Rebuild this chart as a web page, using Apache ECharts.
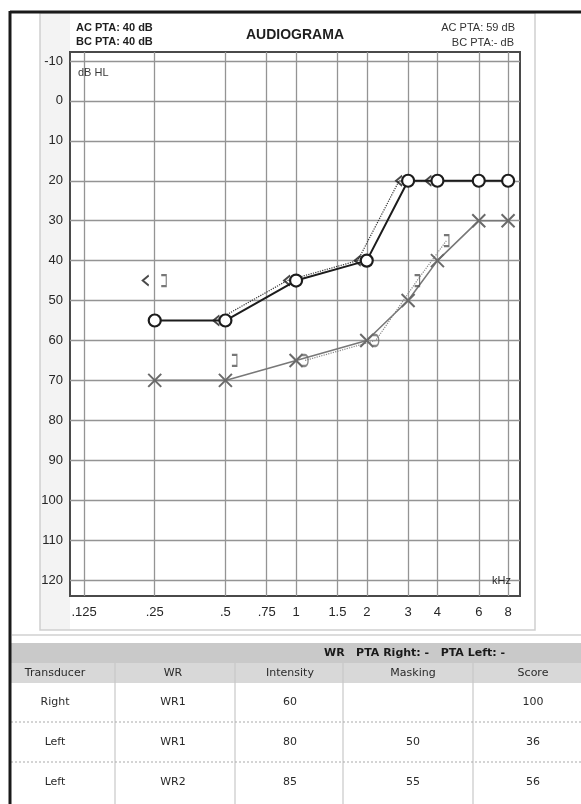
<!DOCTYPE html>
<html><head><meta charset="utf-8">
<script src="https://cdn.jsdelivr.net/npm/echarts@6/dist/echarts.min.js"></script>
<style>html,body{margin:0;padding:0;background:#fff}#c{width:581px;height:804px}</style>
</head><body><div id="c"></div>
<script>
// ---- data ----
const freqs = [0.25, 0.5, 1, 2, 3, 4, 6, 8];
const rightAC = [55, 55, 45, 40, 20, 20, 20, 20];
const leftAC = [70, 70, 65, 60, 50, 40, 30, 30];
const rightBC = [45, 55, 45, 40, 20, 20, null, null];
const rightBCLink = [null, 55, 45, 40, 20, 20, null, null];
const leftBCMasked = [45, 65, null, null, 45, 35, null, null];
const leftBC = [null, null, 65, 60, null, null, null, null];
const leftBCLink = [null, null, 65, 60, 45, 35, null, null];
const xTicks = [0.125, 0.25, 0.5, 0.75, 1, 1.5, 2, 3, 4, 6, 8];
const xTickLabels = ['.125', '.25', '.5', '.75', '1', '1.5', '2', '3', '4', '6', '8'];
const yTicks = [-10, 0, 10, 20, 30, 40, 50, 60, 70, 80, 90, 100, 110, 120];
const headerLeft = ['AC PTA: 40 dB', 'BC PTA: 40 dB'];
const headerRight = ['AC PTA: 59 dB', 'BC PTA:- dB'];
const tableTitle = 'WR   PTA Right: -   PTA Left: -';
const tableHeader = ['Transducer', 'WR', 'Intensity', 'Masking', 'Score'];
const tableRows = [
  ['Right', 'WR1', '60', '', '100'],
  ['Left', 'WR1', '80', '50', '36'],
  ['Left', 'WR2', '85', '55', '56']
];

// ---- layout ----
const XMIN = 0.1089, XMAX = 8.99, YMIN = -12.25, YMAX = 124;
const FONT = 'Liberation Sans';
const TFONT = 'DejaVu Sans';
const colX = [55, 173, 290, 413, 533];
const rowY = [702, 742, 782];

const SYM_X = 'path://M0,0L10,10M10,0L0,10';
const SYM_LT = 'path://M6,0L0,5L6,10';
const SYM_GT = 'path://M0,0L3,0C7,0 7,10 3,10L0,10';
const SYM_RB = 'path://M0,0L5,0L5,11L0,11';

function pairs(v) { return freqs.map((f, i) => v[i] == null ? null : [f, v[i]]).filter(Boolean); }
function gapped(v) { return freqs.map((f, i) => [f, v[i] == null ? '-' : v[i]]); }
function tickLabel(v) {
  for (let i = 0; i < xTicks.length; i++) if (Math.abs(xTicks[i] - v) < 1e-6) return xTickLabels[i];
  return '';
}

const grids = [
  {left: 70, right: 61, top: 52, bottom: 208, show: true, borderColor: '#4a4a4a', borderWidth: 2, backgroundColor: 'transparent'},
  {left: 61, right: 70, top: 52, bottom: 208},
  {left: 79, right: 52, top: 52, bottom: 208}
];
const xAxes = [0, 1, 2].map(g => ({
  type: 'log', logBase: 2, min: XMIN, max: XMAX, gridIndex: g, show: g === 0,
  axisLine: {show: false},
  axisTick: {show: false, customValues: xTicks},
  axisLabel: {customValues: xTicks, formatter: tickLabel, margin: 10, fontFamily: FONT, fontSize: 13, color: '#262626'},
  splitLine: {show: g === 0, lineStyle: {color: '#949494', width: 1.3}},
  minorSplitLine: {show: false}
}));
const yAxes = [0, 1, 2].map(g => ({
  type: 'value', inverse: true, min: YMIN, max: YMAX, gridIndex: g, show: g === 0,
  axisLine: {show: false},
  axisTick: {show: false, customValues: yTicks},
  axisLabel: {customValues: yTicks, margin: 7, fontFamily: FONT, fontSize: 13, color: '#262626'},
  splitLine: {show: g === 0, lineStyle: {color: '#949494', width: 1.3}}
}));

const strokeStyle = (c, w) => ({color: 'rgba(0,0,0,0)', borderColor: c, borderWidth: w});

const series = [
  {type: 'line', name: 'Right BC link', xAxisIndex: 1, yAxisIndex: 1, data: gapped(rightBCLink), symbol: 'none',
   lineStyle: {color: '#333', width: 1.2, type: 'dotted'}, z: 2, silent: true},
  {type: 'line', name: 'Left BC link', xAxisIndex: 2, yAxisIndex: 2, data: gapped(leftBCLink), symbol: 'none',
   lineStyle: {color: '#888', width: 1.2, type: 'dotted'}, z: 2, silent: true},
  {type: 'line', name: 'Left AC', xAxisIndex: 0, yAxisIndex: 0, data: pairs(leftAC), symbol: SYM_X, symbolSize: 13,
   showAllSymbol: true, itemStyle: strokeStyle('#6a6a6a', 2), lineStyle: {color: '#787878', width: 1.6}, z: 3},
  {type: 'line', name: 'Right AC', xAxisIndex: 0, yAxisIndex: 0, data: pairs(rightAC), symbol: 'circle', symbolSize: 12,
   showAllSymbol: true, itemStyle: {color: '#fff', borderColor: '#1c1c1c', borderWidth: 2.2}, lineStyle: {color: '#1c1c1c', width: 2}, z: 4},
  {type: 'scatter', name: 'Right BC', xAxisIndex: 1, yAxisIndex: 1, data: pairs(rightBC), symbol: SYM_LT, symbolSize: [6, 10],
   itemStyle: strokeStyle('#1c1c1c', 1.8), z: 5},
  {type: 'scatter', name: 'Left BC masked', xAxisIndex: 2, yAxisIndex: 2, data: pairs(leftBCMasked), symbol: SYM_RB, symbolSize: [5, 11],
   itemStyle: strokeStyle('#555', 1.6), z: 5},
  {type: 'scatter', name: 'Left BC', xAxisIndex: 2, yAxisIndex: 2, data: pairs(leftBC), symbol: SYM_GT, symbolSize: [6, 11],
   itemStyle: strokeStyle('#6a6a6a', 1.8), z: 5}
];

// ---- graphic (frame, titles, table) ----
const g = [];
g.push({type: 'rect', z: -10, shape: {x: 40, y: 13, width: 30, height: 617}, style: {fill: '#f3f3f3'}});
g.push({type: 'rect', z: -9, shape: {x: 40, y: 13, width: 495, height: 617}, style: {fill: 'none', stroke: '#cfcfcf', lineWidth: 1.5}});
g.push({type: 'line', z: -9, shape: {x1: 12, y1: 635, x2: 581, y2: 635}, style: {stroke: '#d0d0d0', lineWidth: 1.5}});
g.push({type: 'rect', z: -9, shape: {x: 11, y: 643, width: 570, height: 20}, style: {fill: '#c9c9c9'}});
g.push({type: 'rect', z: -9, shape: {x: 11, y: 663, width: 570, height: 20}, style: {fill: '#d8d8d8'}});
[115, 235, 343, 473].forEach(x => g.push({type: 'line', z: -8, shape: {x1: x, y1: 663, x2: x, y2: 804}, style: {stroke: '#c8c8c8', lineWidth: 1.2}}));
[722, 762].forEach(y => g.push({type: 'line', z: -8, shape: {x1: 11, y1: y, x2: 581, y2: y}, style: {stroke: '#aaa', lineWidth: 1, lineDash: [2, 2]}}));
g.push({type: 'line', z: 20, shape: {x1: 10, y1: 12, x2: 581, y2: 12}, style: {stroke: '#1a1a1a', lineWidth: 3}});
g.push({type: 'line', z: 20, shape: {x1: 10, y1: 11, x2: 10, y2: 804}, style: {stroke: '#1a1a1a', lineWidth: 3}});

const txt = (x, y, text, o) => g.push(Object.assign({type: 'text', z: 20, x: x, y: y,
  style: Object.assign({text: text, fill: '#1e1e1e', font: '11px "' + FONT + '"', textAlign: 'left', textVerticalAlign: 'middle'}, o || {})}));
txt(76, 28, headerLeft[0], {font: 'bold 11px "' + FONT + '"'});
txt(76, 42, headerLeft[1], {font: 'bold 11px "' + FONT + '"'});
txt(515, 28, headerRight[0], {textAlign: 'right', fill: '#333'});
txt(514, 43, headerRight[1], {textAlign: 'right', fill: '#333'});
g.push({type: 'text', z: 20, x: 295, y: 35, style: {text: 'AUDIOGRAMA', font: 'bold 14px "' + FONT + '"', fill: '#1e1e1e', textAlign: 'center', textVerticalAlign: 'middle'}});
txt(78, 73, 'dB HL', {fill: '#3a3a3a'});
txt(511, 581, 'kHz', {textAlign: 'right', fill: '#2a2a2a'});

// table
g.push({type: 'text', z: 20, x: 505, y: 653, style: {text: tableTitle, font: 'bold 11px "' + TFONT + '"', fill: '#1a1a1a', textAlign: 'right', textVerticalAlign: 'middle'}});
tableHeader.forEach((h, i) => g.push({type: 'text', z: 20, x: colX[i], y: 673,
  style: {text: h, font: '11px "' + TFONT + '"', fill: '#2a2a2a', textAlign: 'center', textVerticalAlign: 'middle'}}));
tableRows.forEach((r, ri) => r.forEach((c, ci) => g.push({type: 'text', z: 20, x: colX[ci], y: rowY[ri],
  style: {text: c, font: '11px "' + TFONT + '"', fill: '#2a2a2a', textAlign: 'center', textVerticalAlign: 'middle'}})));

const chart = echarts.init(document.getElementById('c'));
chart.setOption({
  animation: false,
  backgroundColor: '#fff',
  grid: grids,
  xAxis: xAxes,
  yAxis: yAxes,
  series: series,
  graphic: {elements: g}
});
</script></body></html>
